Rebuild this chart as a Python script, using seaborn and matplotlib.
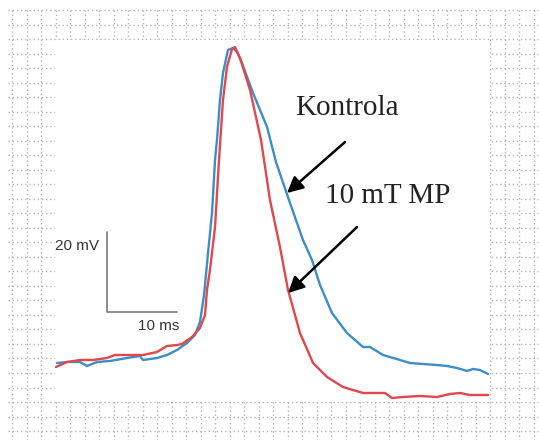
import matplotlib
matplotlib.use("Agg")
import matplotlib.pyplot as plt
import numpy as np
import pandas as pd
import seaborn as sns

# action potential traces (time in ms, potential in mV)
control_t = [0.29, 1.71, 3.57, 4.57, 6.00, 7.86, 10.29, 12.14, 12.57, 14.57, 16.00, 17.43,
             18.86, 20.00, 20.71, 21.29, 21.86, 22.43, 22.86, 23.14, 23.57, 24.00, 24.71,
             25.43, 26.00, 26.71, 28.29, 30.29, 31.57, 33.57, 35.43, 36.71, 37.86, 39.57,
             41.71, 44.00, 45.00, 46.86, 49.29, 50.71, 52.57, 54.57, 56.00, 57.43, 58.86,
             59.71, 60.71, 61.86]
control_v = [-70.25, -70.0, -70.0, -71.0, -70.0, -69.75, -69.0, -68.5, -69.5, -69.0, -68.25,
             -67.0, -65.25, -63.25, -60.0, -53.25, -42.75, -32.75, -19.5, -14.5, -4.5, 2.25,
             8.0, 8.5, 7.5, 4.75, -2.75, -11.25, -20.0, -30.25, -39.5, -44.5, -50.75, -57.75,
             -62.75, -66.25, -66.25, -68.25, -69.5, -70.25, -70.5, -70.75, -71.0, -71.5,
             -72.25, -71.75, -72.0, -73.0]

mp_t = [0.14, 1.71, 3.57, 5.43, 7.43, 8.57, 10.29, 12.57, 14.57, 16.00, 17.43, 18.14, 19.57,
        20.71, 21.43, 21.71, 22.14, 22.86, 23.43, 24.00, 24.57, 25.29, 25.71, 26.43, 27.86,
        29.43, 29.86, 30.71, 32.14, 33.29, 35.00, 36.86, 38.86, 41.14, 44.00, 46.00, 47.14,
        48.14, 49.71, 52.14, 54.57, 56.43, 57.86, 59.29, 61.86]
mp_v = [-71.25, -70.0, -69.5, -69.5, -69.0, -68.25, -68.25, -68.25, -67.5, -66.0, -65.75,
        -65.5, -63.75, -61.5, -58.25, -52.0, -47.0, -36.25, -19.5, -4.5, 3.75, 8.25, 8.75,
        6.0, -2.0, -14.5, -19.5, -29.5, -41.25, -52.0, -62.75, -70.25, -73.75, -76.25,
        -77.75, -77.75, -77.75, -79.0, -78.75, -78.5, -78.75, -78.0, -77.75, -78.25, -78.25]

labels = ["Kontrola", "10 mT MP"]
colors = {"Kontrola": "#3d8ec7", "10 mT MP": "#e2474c"}

W, H = 539, 440
sns.set_style("white")

fig = plt.figure(figsize=(W / 100, H / 100), dpi=100)

# dotted paper grid behind the trace panel
bg = fig.add_axes([0, 0, 1, 1])
bg.set_xlim(0, W)
bg.set_ylim(H, 0)
bg.axis("off")
grid_kw = dict(color="#b4b4b4", lw=1.0, linestyle=(0, (1, 2)))
for y in np.arange(10, H, 14.52):
    bg.plot([8, W], [y, y], **grid_kw)
for x in np.arange(12.3, W, 14.49):
    bg.plot([x, x], [10, H], **grid_kw)

# white panel holding the traces
ax = fig.add_axes([55 / W, (H - 402) / H, 435 / W, 362 / H])
ax.set_facecolor("white")
ax.patch.set_alpha(1)

df = pd.concat([
    pd.DataFrame({"t": control_t, "v": control_v, "grupa": labels[0]}),
    pd.DataFrame({"t": mp_t, "v": mp_v, "grupa": labels[1]}),
])
sns.lineplot(data=df, x="t", y="v", hue="grupa", palette=colors, estimator=None,
             sort=False, units="grupa", lw=1.7, legend=False, ax=ax)

ax.set_xlim(0, 435 / 7)
ax.set_ylim(-80, 10.5)
for s in ax.spines.values():
    s.set_visible(False)
ax.set_xticks([])
ax.set_yticks([])
ax.set_xlabel("")
ax.set_ylabel("")

# scale bar
ax.plot([7.43, 7.43, 17.43], [-37.5, -57.5, -57.5], color="#7a7a7a", lw=1.2)
sans = ["Liberation Sans", "DejaVu Sans"]
ax.text(6.3, -39.3, "20 mV", ha="right", va="top", fontsize=11, family=sans, color="#333333")
ax.text(17.7, -59.3, "10 ms", ha="right", va="top", fontsize=11, family=sans, color="#333333")

# labels with arrows
serif = ["Liberation Serif", "DejaVu Serif"]
ax.text(34.29, -8.25, labels[0], ha="left", va="baseline", fontsize=21, family=serif, color="#222222")
ax.text(38.57, -30.25, labels[1], ha="left", va="baseline", fontsize=21, family=serif, color="#222222")
arrow = dict(arrowstyle="-|>", mutation_scale=24, lw=1.8, color="black", shrinkA=0, shrinkB=0)
ax.annotate("", xy=(33.14, -27.75), xytext=(41.43, -15.0), arrowprops=arrow)
ax.annotate("", xy=(33.29, -52.75), xytext=(43.14, -36.25), arrowprops=arrow)

fig.savefig("out.png", dpi=100)
